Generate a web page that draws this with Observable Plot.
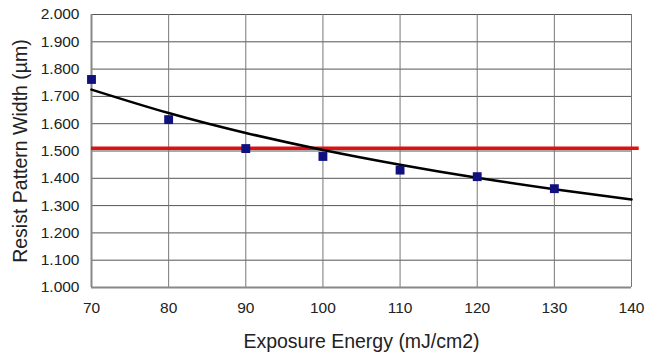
<!DOCTYPE html>
<html><head><meta charset="utf-8">
<script src="https://cdn.jsdelivr.net/npm/d3@7"></script>
<script src="https://cdn.jsdelivr.net/npm/@observablehq/plot@0.6"></script>
<style>
body{margin:0;background:#fff}
g[aria-label="x-axis label"] text, g[aria-label="y-axis label"] text {font-size:19.5px}
</style>
</head><body><div id="chart"></div>
<script>
const energy = [70, 80, 90, 100, 110, 120, 130];
const widthUm = [1.762, 1.615, 1.509, 1.480, 1.430, 1.406, 1.362];
const fitEnergy = [70, 80, 90, 100, 110, 120, 130, 140];
const fitWidth = [1.725, 1.639, 1.566, 1.504, 1.450, 1.402, 1.360, 1.322];
const targetWidth = 1.51;
const xTicks = [70, 80, 90, 100, 110, 120, 130, 140];
const yTicks = [1.0, 1.1, 1.2, 1.3, 1.4, 1.5, 1.6, 1.7, 1.8, 1.9, 2.0];

const points = energy.map((e, i) => ({e, w: widthUm[i]}));
const fit = fitEnergy.map((e, i) => ({e, w: fitWidth[i]}));
const target = [{w: targetWidth, x1: 70, x2: 141}];

const chart = Plot.plot({
  width: 646, height: 356,
  marginLeft: 91, marginRight: 15, marginTop: 14, marginBottom: 69,
  style: {fontFamily: "Liberation Sans, Arial, sans-serif", fontSize: "15.5px", color: "#222", background: "#fff"},
  x: {domain: [70, 140]},
  y: {domain: [1, 2]},
  marks: [
    Plot.ruleY(yTicks, {stroke: "#555", strokeWidth: 1, strokeOpacity: 1}),
    Plot.ruleX(xTicks, {stroke: "#777", strokeWidth: 1, strokeOpacity: 1}),
    Plot.ruleX([70], {stroke: "#888", strokeWidth: 2}),
    Plot.ruleY([1], {stroke: "#888", strokeWidth: 2}),
    Plot.axisX(xTicks, {tickSize: 0, tickPadding: 14, label: "Exposure Energy (mJ/cm2)", labelAnchor: "center", labelOffset: 60, labelArrow: "none"}),
    Plot.axisY(yTicks, {tickSize: 0, tickPadding: 12, tickFormat: d3.format(".3f"), label: "Resist Pattern Width (µm)", labelAnchor: "center", labelOffset: 78, labelArrow: "none"}),
    Plot.ruleY(target, {y: "w", x1: "x1", x2: "x2", stroke: "#e01010", strokeWidth: 3.5}),
    Plot.line(fit, {x: "e", y: "w", curve: "natural", stroke: "#000", strokeWidth: 2.5}),
    Plot.dot(points, {x: "e", y: "w", symbol: "square", r: 5, fill: "#10107f", stroke: "none"})
  ]
});
document.getElementById("chart").append(chart);
</script>
</body></html>
